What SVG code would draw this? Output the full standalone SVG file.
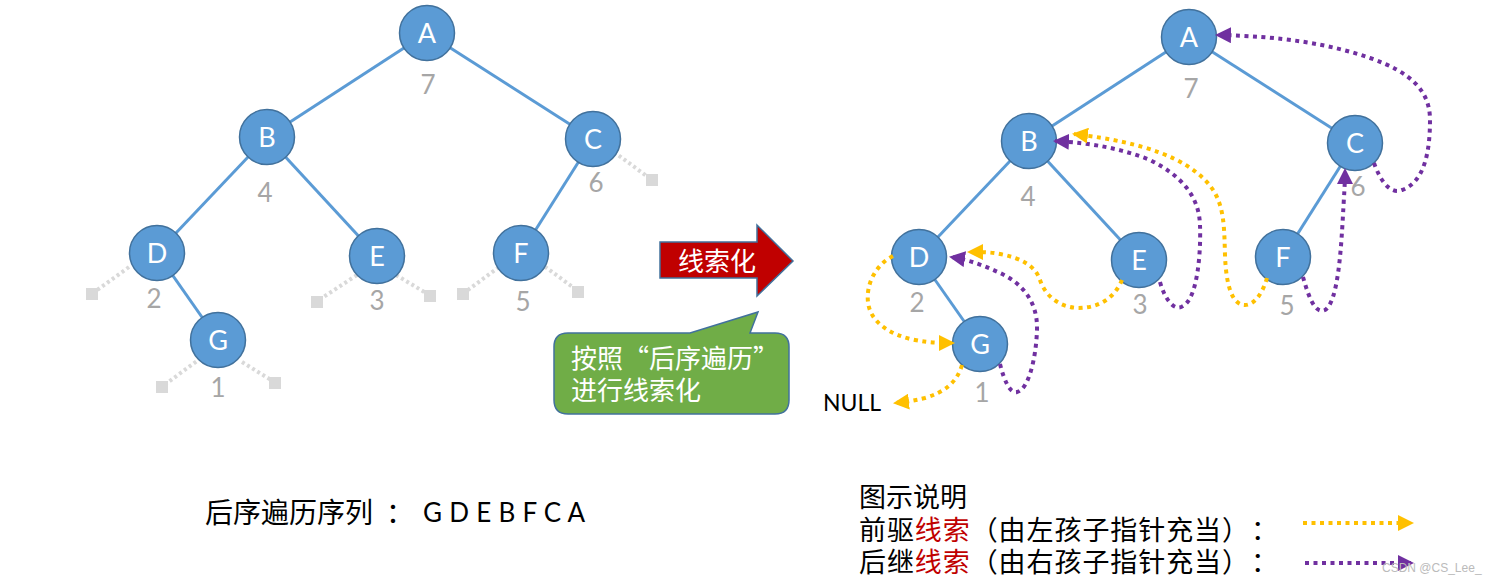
<svg xmlns="http://www.w3.org/2000/svg" width="1496" height="584" viewBox="0 0 1496 584">
<defs>
<style>
.edge{stroke:#5B9BD5;stroke-width:3;fill:none}
.node circle{fill:#5B9BD5;stroke:#41719C;stroke-width:1.5}
.node text{fill:#fff;font-family:Lato,"Open Sans",sans-serif;font-size:27px;text-anchor:middle}
.num{fill:#A6A6A6;font-family:Lato,"Open Sans",sans-serif;font-size:26px;text-anchor:middle}
.stub{stroke:#D9D9D9;stroke-width:4;stroke-dasharray:3 3;fill:none}
.sq{fill:#D9D9D9}
.pred{stroke:#FFC000;stroke-width:4;stroke-dasharray:4 4.5;fill:none;marker-end:url(#ay)}
.succ{stroke:#7030A0;stroke-width:4;stroke-dasharray:4 4.5;fill:none;marker-end:url(#ap)}
.cjk{font-family:"Noto Sans CJK SC",sans-serif;text-spacing-trim:space-all}
</style>
<marker id="ay" viewBox="0 0 16 16" refX="14" refY="8" markerWidth="16" markerHeight="16" markerUnits="userSpaceOnUse" orient="auto"><path d="M0,0 L16,8 L0,16 z" fill="#FFC000"/></marker>
<marker id="ap" viewBox="0 0 16 16" refX="14" refY="8" markerWidth="16" markerHeight="16" markerUnits="userSpaceOnUse" orient="auto"><path d="M0,0 L16,8 L0,16 z" fill="#7030A0"/></marker>
</defs>
<rect width="1496" height="584" fill="#fff"/>

<!-- Left tree -->
<g id="left-edges">
<line class="edge" x1="427" y1="33" x2="267" y2="137"/>
<line class="edge" x1="427" y1="33" x2="593" y2="139"/>
<line class="edge" x1="267" y1="137" x2="157" y2="253"/>
<line class="edge" x1="267" y1="137" x2="377" y2="256"/>
<line class="edge" x1="593" y1="139" x2="521" y2="253"/>
<line class="edge" x1="157" y1="253" x2="218" y2="340"/>
</g>
<g id="left-null-stubs">
<line class="stub" x1="614" y1="152" x2="648" y2="177"/><rect class="sq" x="646" y="174" width="12" height="12"/>
<line class="stub" x1="129" y1="267" x2="97" y2="290"/><rect class="sq" x="86" y="288" width="12" height="12"/>
<line class="stub" x1="357" y1="275" x2="322" y2="298"/><rect class="sq" x="311" y="296" width="12" height="12"/>
<line class="stub" x1="396" y1="275" x2="426" y2="293"/><rect class="sq" x="424" y="290" width="12" height="12"/>
<line class="stub" x1="499" y1="267" x2="468" y2="290"/><rect class="sq" x="457" y="288" width="12" height="12"/>
<line class="stub" x1="540" y1="263" x2="574" y2="288"/><rect class="sq" x="572" y="286" width="12" height="12"/>
<line class="stub" x1="201" y1="358" x2="167" y2="383"/><rect class="sq" x="156" y="381" width="12" height="12"/>
<line class="stub" x1="242" y1="362" x2="271" y2="380"/><rect class="sq" x="269" y="377" width="12" height="12"/>
</g>
<g id="L-A" class="node"><circle cx="427" cy="33" r="27.5"/><text x="427" y="42.5">A</text></g>
<g id="L-B" class="node"><circle cx="267" cy="137" r="27.5"/><text x="267" y="146.5">B</text></g>
<g id="L-C" class="node"><circle cx="593" cy="139" r="27.5"/><text x="593" y="148.5">C</text></g>
<g id="L-D" class="node"><circle cx="157" cy="253" r="27.5"/><text x="157" y="262.5">D</text></g>
<g id="L-E" class="node"><circle cx="377" cy="256" r="27.5"/><text x="377" y="265.5">E</text></g>
<g id="L-F" class="node"><circle cx="521" cy="253" r="27.5"/><text x="521" y="262.5">F</text></g>
<g id="L-G" class="node"><circle cx="218" cy="340" r="27.5"/><text x="218" y="349.5">G</text></g>
<g id="left-order">
<text class="num" x="428" y="94">7</text>
<text class="num" x="265" y="202">4</text>
<text class="num" x="596" y="192">6</text>
<text class="num" x="154" y="308">2</text>
<text class="num" x="377" y="310">3</text>
<text class="num" x="523" y="311">5</text>
<text class="num" x="218" y="397">1</text>
</g>

<!-- Thread arrow -->
<g id="thread-arrow">
<polygon points="660,242 757,242 757,225 793,261 757,296 757,278 660,278" fill="#C00000" stroke="#41719C" stroke-width="1.5"/>
<text class="cjk" x="717" y="271" font-size="26" fill="#fff" text-anchor="middle">线索化</text>
</g>
<g id="callout">
<path d="M568,333 L690,333 L758,312 L750,333 L775,333 Q789,333 789,347 L789,400 Q789,414 775,414 L568,414 Q554,414 554,400 L554,347 Q554,333 568,333 Z" fill="#70AD47" stroke="#41719C" stroke-width="1.5"/>
<text class="cjk" x="571" y="368" font-size="26" fill="#fff">按照“后序遍历”</text>
<text class="cjk" x="571" y="400" font-size="26" fill="#fff">进行线索化</text>
</g>

<!-- Right tree -->
<g id="right-edges">
<line class="edge" x1="1189" y1="37" x2="1029" y2="141"/>
<line class="edge" x1="1189" y1="37" x2="1355" y2="143"/>
<line class="edge" x1="1029" y1="141" x2="919" y2="257"/>
<line class="edge" x1="1029" y1="141" x2="1139" y2="260"/>
<line class="edge" x1="1355" y1="143" x2="1283" y2="257"/>
<line class="edge" x1="919" y1="257" x2="980" y2="344"/>
</g>
<g id="R-A" class="node"><circle cx="1189" cy="37" r="27.5"/><text x="1189" y="46.5">A</text></g>
<g id="R-B" class="node"><circle cx="1029" cy="141" r="27.5"/><text x="1029" y="150.5">B</text></g>
<g id="R-C" class="node"><circle cx="1355" cy="143" r="27.5"/><text x="1355" y="152.5">C</text></g>
<g id="R-D" class="node"><circle cx="919" cy="257" r="27.5"/><text x="919" y="266.5">D</text></g>
<g id="R-E" class="node"><circle cx="1139" cy="260" r="27.5"/><text x="1139" y="269.5">E</text></g>
<g id="R-F" class="node"><circle cx="1283" cy="257" r="27.5"/><text x="1283" y="266.5">F</text></g>
<g id="R-G" class="node"><circle cx="980" cy="344" r="27.5"/><text x="980" y="353.5">G</text></g>
<g id="right-order">
<text class="num" x="1191" y="98">7</text>
<text class="num" x="1028" y="206">4</text>
<text class="num" x="1358" y="196">6</text>
<text class="num" x="917" y="312">2</text>
<text class="num" x="1140" y="314">3</text>
<text class="num" x="1287" y="315">5</text>
<text class="num" x="982" y="402">1</text>
</g>
<text id="null-label" x="852" y="411" font-family="Lato,'Open Sans',sans-serif" font-size="23" fill="#000" text-anchor="middle">NULL</text>

<g id="threads">
<path class="succ" d="M1000,364 C1004,380 1010,394 1017,392 C1028,390 1036,360 1037,330 C1038,300 1020,282 1000,273 C985,266 970,260 951,257"/>
<path class="succ" d="M1160,282 C1165,300 1175,312 1183,306 C1198,298 1201,250 1200,225 C1199,195 1180,175 1150,160 C1120,148 1090,143 1055,141"/>
<path class="succ" d="M1303,277 C1308,295 1315,315 1325,310 C1338,302 1341,250 1343,215 C1344,195 1345,185 1345,170"/>
<path class="succ" d="M1374,163 C1380,180 1390,195 1402,190 C1425,182 1430,150 1430,120 C1430,90 1410,72 1370,58 C1330,44 1280,36 1217,35"/>
<path class="pred" d="M893,256 C875,265 866,285 868,302 C870,322 890,335 915,340 C930,343 940,343 953,343"/>
<path class="pred" d="M962,365 C957,382 945,392 925,398 C912,401 905,402 895,403"/>
<path class="pred" d="M1122,280 C1115,297 1100,308 1078,308 C1058,307 1045,295 1040,280 C1035,265 1020,258 1000,254 C990,252 980,252 969,252"/>
<path class="pred" d="M1267,278 C1263,292 1255,305 1245,305 C1232,305 1226,285 1225,255 C1224,225 1225,200 1205,180 C1185,160 1150,143 1074,134"/>
</g>

<!-- Sequence -->
<g id="sequence">
<text class="cjk" y="523" font-size="28" fill="#000"><tspan x="205">后序遍历序列</tspan><tspan x="386">：</tspan></text>
<text x="423" y="522" font-family="Lato,'Open Sans',sans-serif" font-size="26" fill="#000" textLength="162" lengthAdjust="spacing">G D E B F C A</text>
</g>

<!-- Legend -->
<g id="legend">
<text class="cjk" x="859" y="507" font-size="27" fill="#000">图示说明</text>
<text class="cjk" x="859" y="540" font-size="27" fill="#000" textLength="390" lengthAdjust="spacing">前驱<tspan fill="#C00000">线索</tspan>（由左孩子指针充当）</text>
<text class="cjk" x="1251" y="540" font-size="27" fill="#000">：</text>
<text class="cjk" x="859" y="572" font-size="27" fill="#000" textLength="390" lengthAdjust="spacing">后继<tspan fill="#C00000">线索</tspan>（由右孩子指针充当）</text>
<text class="cjk" x="1251" y="572" font-size="27" fill="#000">：</text>
<line x1="1303" y1="523" x2="1412" y2="523" stroke="#FFC000" stroke-width="4" stroke-dasharray="4 4.5" marker-end="url(#ay)"/>
<line x1="1305" y1="563" x2="1412" y2="563" stroke="#7030A0" stroke-width="4" stroke-dasharray="4 4.5" marker-end="url(#ap)"/>
</g>
<text id="watermark" x="1382" y="572" font-family="'Liberation Sans',sans-serif" font-size="12" fill="#BBBBBB">CSDN @CS_Lee_</text>
</svg>
